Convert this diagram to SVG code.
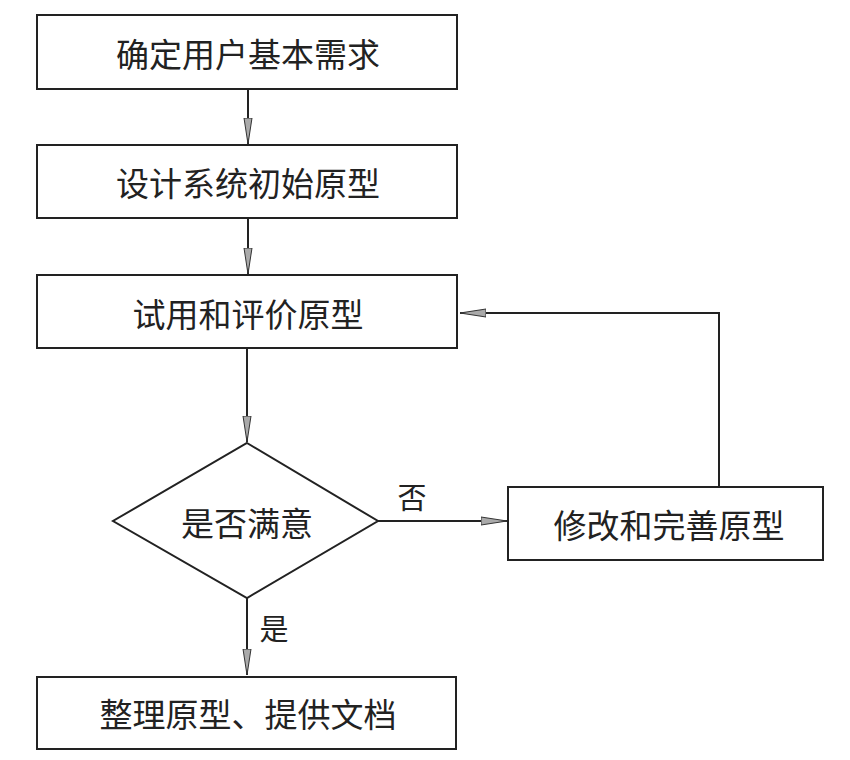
<svg xmlns="http://www.w3.org/2000/svg" width="850" height="760" viewBox="0 0 850 760">
<style>
.box{fill:#fff;stroke:#222;stroke-width:2}
.t{font-family:"Noto Sans CJK SC","Noto Sans",sans-serif;font-size:33px;fill:#222;text-anchor:middle;dominant-baseline:central}
.lbl{font-family:"Noto Sans CJK SC","Noto Sans",sans-serif;font-size:29px;fill:#222;text-anchor:middle;dominant-baseline:central}
.c{fill:none;stroke:#222;stroke-width:2}
</style>
<defs>
<marker id="ah" viewBox="0 0 26 10" refX="26" refY="5" markerWidth="26" markerHeight="10" markerUnits="userSpaceOnUse" orient="auto">
<path d="M0,1 L26,5 L0,9 Z" fill="#aaa" stroke="#333" stroke-width="1"/>
</marker>
</defs>
<rect width="850" height="760" fill="#fff"/>
<g id="n1"><rect class="box" x="37" y="15" width="420" height="74"/><text class="t" x="248" y="53">确定用户基本需求</text></g>
<g id="n2"><rect class="box" x="37" y="145" width="420" height="73"/><text class="t" x="248" y="182">设计系统初始原型</text></g>
<g id="n3"><rect class="box" x="37" y="275" width="420" height="73"/><text class="t" x="248" y="313">试用和评价原型</text></g>
<g id="n4"><polygon class="box" points="247,443 378,521 247,598 113,521"/><text class="t" x="247" y="522">是否满意</text></g>
<g id="n5"><rect class="box" x="508" y="487" width="315" height="73"/><text class="t" x="669" y="524">修改和完善原型</text></g>
<g id="n6"><rect class="box" x="37" y="677" width="419" height="72"/><text class="t" x="248" y="713">整理原型、提供文档</text></g>
<g id="connectors">
<line class="c" x1="248" y1="89" x2="248" y2="144" marker-end="url(#ah)"/>
<line class="c" x1="248" y1="218" x2="248" y2="274" marker-end="url(#ah)"/>
<line class="c" x1="247" y1="348" x2="247" y2="442" marker-end="url(#ah)"/>
<line class="c" x1="378" y1="521" x2="507" y2="521" marker-end="url(#ah)"/>
<polyline class="c" points="719,487 719,313 460,313" marker-end="url(#ah)"/>
<line class="c" x1="247" y1="598" x2="247" y2="675" marker-end="url(#ah)"/>
<text class="lbl" x="412" y="496">否</text>
<text class="lbl" x="274" y="627">是</text>
</g>
</svg>
